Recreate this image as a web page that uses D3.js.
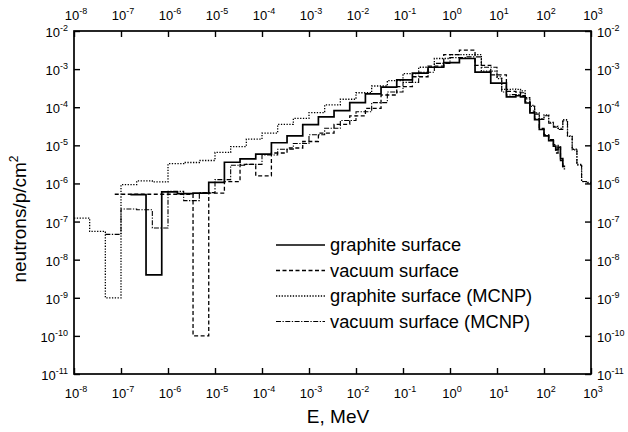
<!DOCTYPE html>
<html>
<head>
<meta charset="utf-8">
<script src="https://cdn.jsdelivr.net/npm/d3@7"></script>
<style>
body { margin: 0; background: #fff; }
text { font-family: "Liberation Sans", Arial, sans-serif; fill: #000; }
</style>
</head>
<body>
<svg id="chart" width="628" height="432"></svg>
<script>
// bin edges (MeV) of the measured spectra
var measuredEdgesA = [1.585e-7, 3.41e-7, 7.36e-7, 1.585e-6, 3.41e-6, 7.36e-6, 1.585e-5, 3.41e-5, 7.36e-5,
  1.585e-4, 3.41e-4, 7.36e-4, 1.585e-3, 3.41e-3, 7.36e-3, 1.585e-2, 3.41e-2, 7.36e-2, 0.1585, 0.341, 0.736,
  1.585, 3.41, 7.36, 15.85, 19.95, 25.12, 31.62, 39.81, 50.12, 63.10, 79.43, 100, 125.9, 158.5, 177.8,
  199.5, 223.9, 251.2, 281.8];
var measuredEdgesB = [7.36e-8, 3.41e-6, 7.36e-6, 1.585e-5, 3.41e-5, 7.36e-5,
  1.585e-4, 3.41e-4, 7.36e-4, 1.585e-3, 3.41e-3, 7.36e-3, 1.585e-2, 3.41e-2, 7.36e-2, 0.1585, 0.341, 0.736,
  1.585, 3.41, 7.36, 15.85, 19.95, 25.12, 31.62, 39.81, 50.12, 63.10, 79.43, 100, 125.9, 158.5, 177.8,
  199.5, 223.9, 251.2, 281.8];
// bin edges (MeV) of the MCNP spectra
var mcnpEdges = [1e-8, 2.154e-8, 4.642e-8, 1e-7, 2.154e-7, 4.642e-7, 1e-6, 2.154e-6, 4.642e-6, 1e-5,
  2.154e-5, 4.642e-5, 1e-4, 2.154e-4, 4.642e-4, 1e-3, 2.154e-3, 4.642e-3, 1e-2, 2.154e-2, 4.642e-2,
  0.1, 0.2154, 0.4642, 1, 2.154, 4.642, 10, 12.59, 15.85, 19.95, 25.12, 31.62, 39.81, 50.12, 63.10,
  79.43, 100, 125.9, 158.5, 199.5, 251.2, 316.2, 398.1, 501.2, 631.0, 794.3, 1000];

// neutrons/p/cm2 per bin
var graphiteSurface = [5.1e-7, 4.0e-9, 6.0e-7, 5.4e-7, 5.6e-7, 1.07e-6, 3.6e-6, 4.4e-6, 5.9e-6, 1.17e-5,
  1.78e-5, 3.5e-5, 5.6e-5, 8.1e-5, 1.32e-4, 2.24e-4, 3.35e-4, 5.2e-4, 7.8e-4, 1.12e-3, 1.48e-3, 1.9e-3,
  8.3e-4, 4.3e-4, 1.86e-4, 1.86e-4, 2.0e-4, 1.86e-4, 1.29e-4, 7.1e-5, 4.7e-5, 2.6e-5, 1.78e-5, 1.32e-5,
  9.5e-6, 7.6e-6, 8.9e-6, 4.5e-6, 2.8e-6];
var vacuumSurface = [5.2e-7, 1.0e-10, 5.6e-7, 1.12e-6, 3.16e-6, 1.58e-6, 6.3e-6, 8.5e-6, 1.26e-5, 2.09e-5,
  3.55e-5, 5.9e-5, 9.3e-5, 2.09e-4, 3.47e-4, 6.3e-4, 1.2e-3, 2.4e-3, 3.16e-3, 1.26e-3, 7.1e-4, 2.6e-4,
  2.6e-4, 2.5e-4, 2.0e-4, 1.38e-4, 7.9e-5, 5.0e-5, 2.8e-5, 1.9e-5, 1.41e-5, 1.05e-5, 6.3e-6, 1.0e-5,
  4.0e-6, 2.4e-6];
var graphiteMcnp = [1.23e-7, 5.5e-8, 1.0e-9, 9.3e-7, 1.17e-6, 1.10e-6, 3.3e-6, 3.55e-6, 4.0e-6, 6.5e-6,
  9.3e-6, 1.45e-5, 2.09e-5, 3.55e-5, 5.1e-5, 7.2e-5, 1.15e-4, 1.62e-4, 2.4e-4, 3.6e-4, 5.0e-4, 7.6e-4,
  1.12e-3, 1.9e-3, 2.4e-3, 2.4e-3, 8.9e-4, 5.6e-4, 2.95e-4, 2.95e-4, 3.0e-4, 2.95e-4, 2.7e-4, 1.78e-4,
  1.12e-4, 7.1e-5, 5.0e-5, 6.3e-5, 4.0e-5, 3.16e-5, 2.8e-5, 4.7e-5, 1.78e-5, 7.9e-6, 3.16e-6, 1.12e-6,
  1.07e-6];
var vacuumMcnp = [null, null, 4.6e-8, 2.14e-7, 2.04e-7, 6.8e-8, 6.2e-7, 3.55e-7, 5.75e-7, 1.26e-6, 3.0e-6,
  3.16e-6, 5.6e-6, 7.9e-6, 1.12e-5, 1.9e-5, 2.8e-5, 4.5e-5, 7.6e-5, 1.32e-4, 2.5e-4, 4.5e-4, 8.3e-4,
  1.41e-3, 2.0e-3, 2.1e-3, 1.12e-3, 6.3e-4, 2.5e-4, 2.1e-4, 2.14e-4, 2.14e-4, 2.4e-4, 1.66e-4, 1.05e-4,
  6.6e-5, 4.8e-5, 6.0e-5, 3.8e-5, 3.0e-5, 2.6e-5, 4.4e-5, 1.7e-5, 7.6e-6, 3.0e-6, 1.12e-6, 1.02e-6];

var xTicks = [1e-8, 1e-7, 1e-6, 1e-5, 1e-4, 1e-3, 1e-2, 1e-1, 1e0, 1e1, 1e2, 1e3];
var yTicks = [1e-11, 1e-10, 1e-9, 1e-8, 1e-7, 1e-6, 1e-5, 1e-4, 1e-3, 1e-2];
var legendLabels = ["graphite surface", "vacuum surface", "graphite surface (MCNP)", "vacuum surface (MCNP)"];

var svg = d3.select("#chart");
var plotL = 74, plotR = 591, plotT = 31, plotB = 374;

var x = d3.scaleLog().domain([1e-8, 1e3]).range([plotL, plotR]);
var y = d3.scaleLog().domain([1e-11, 1e-2]).range([plotB, plotT]);

var series = [
  { edges: measuredEdgesA, values: graphiteSurface, dash: null, width: 1.7 },
  { edges: measuredEdgesB, values: vacuumSurface, dash: "4,2.5", width: 1.3 },
  { edges: mcnpEdges, values: graphiteMcnp, dash: "1.3,1.5", width: 1.3 },
  { edges: mcnpEdges, values: vacuumMcnp, dash: "5,1.5,1.3,1.5", width: 1.1 }
];

// histogram -> step points
function steps(edges, values) {
  var pts = [];
  values.forEach(function(v, i) {
    if (v == null) return;
    pts.push([edges[i], v]);
    pts.push([edges[i + 1], v]);
  });
  return pts;
}

var line = d3.line()
  .x(function(d) { return x(d[0]); })
  .y(function(d) { return y(d[1]); });

var plot = svg.append("g");
series.forEach(function(s) {
  plot.append("path")
    .attr("d", line(steps(s.edges, s.values)))
    .attr("fill", "none")
    .attr("stroke", "#000")
    .attr("stroke-width", s.width)
    .attr("stroke-dasharray", s.dash);
});

// axes, ticks pointing inside
function clean(g) { g.select(".domain").remove(); g.selectAll(".tick line").attr("stroke", "#000").attr("stroke-width", 1.4); }
svg.append("g").attr("transform", "translate(0," + plotB + ")")
  .call(d3.axisBottom(x).tickValues(xTicks).tickSize(-6).tickFormat("")).call(clean);
svg.append("g").attr("transform", "translate(0," + plotT + ")")
  .call(d3.axisTop(x).tickValues(xTicks).tickSize(-6).tickFormat("")).call(clean);
svg.append("g").attr("transform", "translate(" + plotL + ",0)")
  .call(d3.axisLeft(y).tickValues(yTicks).tickSize(-6).tickFormat("")).call(clean);
svg.append("g").attr("transform", "translate(" + plotR + ",0)")
  .call(d3.axisRight(y).tickValues(yTicks).tickSize(-6).tickFormat("")).call(clean);

svg.append("rect")
  .attr("x", plotL).attr("y", plotT)
  .attr("width", plotR - plotL).attr("height", plotB - plotT)
  .attr("fill", "none").attr("stroke", "#000").attr("stroke-width", 1.7);

function power(sel, v) {
  sel.append("tspan").text("10");
  sel.append("tspan").attr("dy", -6).attr("font-size", 9).text(Math.round(Math.log10(v)));
}

[398, 20].forEach(function(ty) {
  svg.append("g").selectAll("text").data(xTicks).enter().append("text")
    .attr("x", function(d) { return x(d) + 2; })
    .attr("y", ty)
    .attr("text-anchor", "middle")
    .attr("font-size", 13)
    .each(function(d) { power(d3.select(this), d); });
});

svg.append("g").selectAll("text").data(yTicks).enter().append("text")
  .attr("x", plotL - 6)
  .attr("y", function(d) { return y(d) + 6; })
  .attr("text-anchor", "end")
  .attr("font-size", 13)
  .each(function(d) { power(d3.select(this), d); });

svg.append("g").selectAll("text").data(yTicks).enter().append("text")
  .attr("x", plotR + 6)
  .attr("y", function(d) { return y(d) + 6; })
  .attr("font-size", 13)
  .each(function(d) { power(d3.select(this), d); });

// titles
svg.append("text")
  .attr("x", 338).attr("y", 423)
  .attr("text-anchor", "middle")
  .attr("font-size", 19)
  .text("E, MeV");

var yt = svg.append("text")
  .attr("transform", "translate(26,219) rotate(-90)")
  .attr("text-anchor", "middle")
  .attr("font-size", 19);
yt.append("tspan").text("neutrons/p/cm");
yt.append("tspan").attr("dy", -8).attr("font-size", 12).text("2");

// legend
var legend = svg.append("g");
series.forEach(function(s, i) {
  var ly = 245 + i * 25.5;
  legend.append("line")
    .attr("x1", 276).attr("x2", 325)
    .attr("y1", ly).attr("y2", ly)
    .attr("stroke", "#000")
    .attr("stroke-width", s.width)
    .attr("stroke-dasharray", s.dash);
  legend.append("text")
    .attr("x", 330).attr("y", ly + 6)
    .attr("font-size", 18.3)
    .text(legendLabels[i]);
});
</script>
</body>
</html>
